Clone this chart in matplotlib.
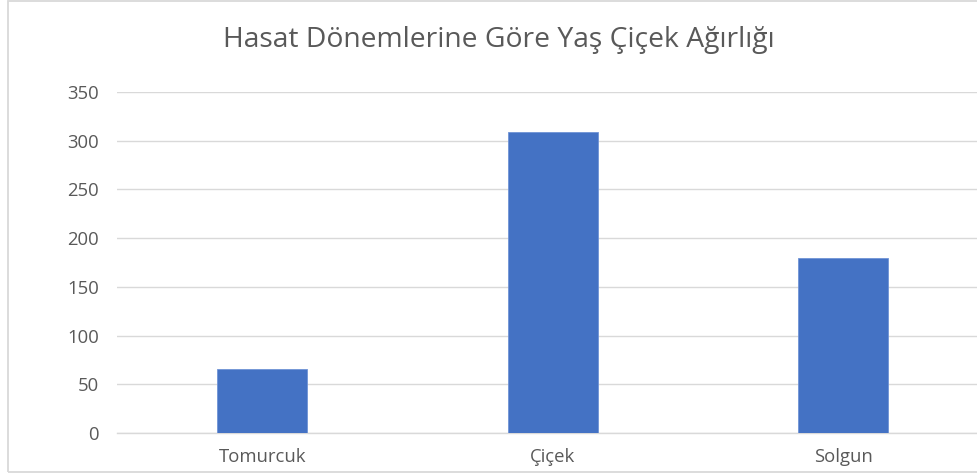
import matplotlib
matplotlib.use("Agg")
import matplotlib.pyplot as plt
from matplotlib.patches import Rectangle

categories = ["Tomurcuk", "Çiçek", "Solgun"]
values = [66, 309, 180]
y_ticks = [0, 50, 100, 150, 200, 250, 300, 350]
title = "Hasat Dönemlerine Göre Yaş Çiçek Ağırlığı"

plt.rcParams["font.family"] = ["Open Sans", "DejaVu Sans"]

W, H = 978, 475
fig = plt.figure(figsize=(W / 100, H / 100), dpi=100)
fig.patch.set_facecolor("white")

# chart frame
fig.patches.append(Rectangle((8 / W, 1 - 472 / H), 1.2, (471) / H,
                             transform=fig.transFigure, fill=False,
                             edgecolor="#d9d9d9", linewidth=1.3, zorder=0))

left = 117 / W
right = 988.5 / W
bottom = 1 - 433 / H
top = 1 - 92 / H
ax = fig.add_axes([left, bottom, right - left, top - bottom])
ax.set_facecolor("none")

x = range(len(categories))
ax.bar(x, values, width=0.31, color="#4472C4", edgecolor="#6f93d6",
       linewidth=0.6, zorder=3)

ax.set_xlim(-0.5, len(categories) - 0.5)
ax.set_ylim(0, 350)
ax.set_yticks(y_ticks)
ax.set_yticklabels([str(t) for t in y_ticks])
ax.set_xticks(list(x))
ax.set_xticklabels(categories)

ax.grid(axis="y", color="#d9d9d9", linewidth=1.0, zorder=0)
for s in ["top", "right", "left"]:
    ax.spines[s].set_visible(False)
ax.spines["bottom"].set_color("#d9d9d9")
ax.spines["bottom"].set_linewidth(1.0)

ax.tick_params(axis="y", length=0, pad=13, labelsize=13.3, labelcolor="#595959")
ax.tick_params(axis="x", length=0, pad=11, labelsize=13.3, labelcolor="#595959")

fig.text((222 + 775) / 2 / W, 1 - 40 / H, title, ha="center", va="center",
         fontsize=20.3, color="#595959")

fig.savefig("out.png", dpi=100, facecolor="white")
